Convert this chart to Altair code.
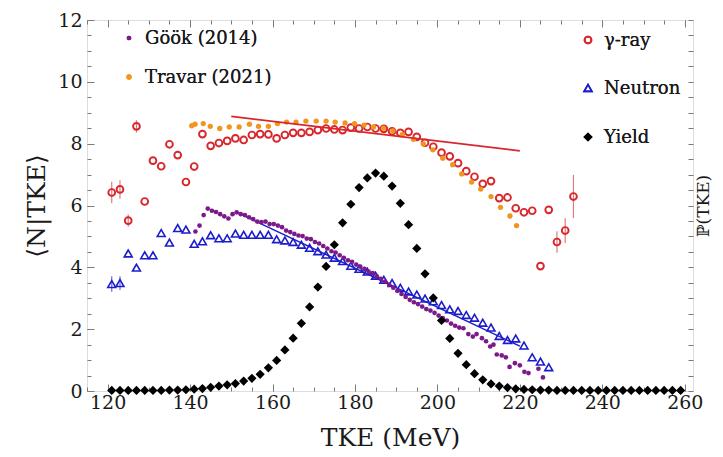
import altair as alt
import pandas as pd

# ---------------- data ----------------
gamma_x = [121, 123, 125, 127, 129, 131, 133, 135, 137, 139, 141, 143, 145, 147, 149,
           151, 153, 155, 157, 159, 161, 163, 165, 167, 169, 171, 173, 175, 177, 179,
           181, 183, 185, 187, 189, 191, 193, 195, 197, 199, 201, 203, 205, 207, 209,
           211, 213, 215, 217, 219, 221, 223, 225, 227, 229, 231, 233]
gamma_y = [6.42, 6.52, 5.51, 8.56, 6.13, 7.45, 7.27, 7.98, 7.63, 6.76, 7.26, 8.31, 7.93, 8.02, 8.09,
           8.17, 8.12, 8.28, 8.31, 8.30, 8.17, 8.28, 8.35, 8.35, 8.38, 8.44, 8.49, 8.46, 8.44, 8.52,
           8.49, 8.54, 8.49, 8.48, 8.40, 8.35, 8.38, 8.22, 8.03, 7.90, 7.71, 7.59, 7.37, 7.11, 6.93,
           6.70, 6.79, 6.24, 6.26, 5.91, 5.78, 5.83, 4.04, 5.86, 4.82, 5.19, 6.29]
gamma_err_x = [121, 123, 125, 127, 229, 231, 233]
gamma_err = [0.35, 0.30, 0.20, 0.20, 0.35, 0.40, 0.70]

neutron_x = [121, 123, 125, 127, 129, 131, 133, 135, 137, 139, 141, 143, 145, 147, 149,
             151, 153, 155, 157, 159, 161, 163, 165, 167, 169, 171, 173, 175, 177, 179,
             181, 183, 185, 187, 189, 191, 193, 195, 197, 199, 201, 203, 205, 207, 209,
             211, 213, 215, 217, 219, 221, 223, 225, 227]
neutron_y = [3.46, 3.49, 4.45, 3.99, 4.39, 4.39, 5.11, 4.80, 5.27, 5.22, 4.76, 4.84, 5.04, 4.94, 4.94,
             5.09, 5.05, 5.05, 5.05, 5.05, 4.91, 4.87, 4.82, 4.73, 4.63, 4.52, 4.41, 4.31, 4.20, 4.05,
             3.95, 3.86, 3.73, 3.60, 3.49, 3.34, 3.22, 3.12, 2.99, 2.90, 2.78, 2.64, 2.59, 2.46, 2.37,
             2.21, 2.05, 1.78, 1.65, 1.70, 1.47, 1.09, 0.95, 0.77]
neutron_err_x = [121, 123]
neutron_err = [0.25, 0.22]

yield_x = [121, 123, 125, 127, 129, 131, 133, 135, 137, 139, 141, 143, 145, 147, 149,
           151, 153, 155, 157, 159, 161, 163, 165, 167, 169, 171, 173, 175, 177, 179,
           181, 183, 185, 187, 189, 191, 193, 195, 197, 199, 201, 203, 205, 207, 209,
           211, 213, 215, 217, 219, 221, 223, 225, 227, 229, 231, 233, 235, 237, 239,
           241, 243, 245, 247, 249, 251, 253, 255, 257, 259]
yield_y = [0.02, 0.02, 0.02, 0.02, 0.02, 0.02, 0.02, 0.03, 0.03, 0.04, 0.06, 0.08, 0.12, 0.16, 0.20,
           0.24, 0.32, 0.41, 0.54, 0.75, 0.99, 1.33, 1.71, 2.19, 2.72, 3.36, 4.03, 4.73, 5.44, 6.04,
           6.58, 6.89, 7.05, 6.95, 6.63, 6.07, 5.38, 4.61, 3.79, 3.01, 2.28, 1.70, 1.22, 0.85, 0.56,
           0.36, 0.23, 0.16, 0.11, 0.07, 0.05, 0.04, 0.03, 0.03, 0.02, 0.02, 0.02, 0.02, 0.02, 0.02,
           0.02, 0.02, 0.02, 0.02, 0.02, 0.02, 0.02, 0.02, 0.02, 0.02]

gook_x = [141.3, 142.3, 143.3, 144.3, 145.3, 146.3, 147.3, 148.3, 149.3, 150.3, 151.3, 152.3,
          153.3, 154.3, 155.3, 156.3, 157.3, 158.3, 159.3, 160.3, 161.3, 162.3, 163.3, 164.3,
          165.3, 166.3, 167.3, 168.3, 169.3, 170.3, 171.3, 172.3, 173.3, 174.3, 175.3, 176.3,
          177.3, 178.3, 179.3, 180.3, 181.3, 182.3, 183.3, 184.3, 185.3, 186.3, 187.3, 188.3,
          189.3, 190.3, 191.3, 192.3, 193.3, 194.3, 195.3, 196.3, 197.3, 198.3, 199.3, 200.3,
          201.3, 202.3, 203.3, 204.3, 205.3, 206.3, 207.5, 208.6, 209.5, 210.8, 211.8, 212.8,
          213.6, 214.4, 215.6, 216.6, 217.5, 218.8, 220.0, 221.1, 222.1, 224.5, 225.6]
gook_y = [5.16, 5.35, 5.69, 5.90, 5.83, 5.79, 5.72, 5.65, 5.58, 5.72, 5.78, 5.72,
          5.69, 5.62, 5.56, 5.48, 5.46, 5.48, 5.40, 5.40, 5.35, 5.30, 5.19, 5.14,
          5.08, 5.03, 5.01, 4.93, 4.91, 4.82, 4.77, 4.69, 4.61, 4.52, 4.48, 4.39,
          4.31, 4.23, 4.18, 4.09, 4.02, 3.95, 3.86, 3.81, 3.71, 3.63, 3.54, 3.44,
          3.34, 3.24, 3.14, 3.04, 2.95, 2.87, 2.81, 2.73, 2.65, 2.60, 2.53, 2.44,
          2.36, 2.28, 2.18, 2.11, 2.05, 2.03, 1.84, 1.76, 1.84, 1.71, 1.61, 1.44,
          1.50, 1.18, 1.15, 1.09, 0.78, 0.90, 0.83, 0.62, 0.58, 0.72, 0.44]

travar_x = [140.4, 141.2, 143.2, 144.9, 147.2, 149.5, 151.9, 154.4, 156.6, 159.0, 161.2, 163.4,
            165.7, 168.1, 170.6, 173.0, 175.2, 177.6, 179.9, 182.2, 184.5, 186.9, 189.2, 191.5,
            194.2, 196.6, 198.9, 201.3, 203.7, 205.9, 208.3, 210.5, 213.0, 215.3, 217.6, 219.2]
travar_y = [8.58, 8.63, 8.65, 8.56, 8.49, 8.54, 8.54, 8.63, 8.56, 8.56, 8.65, 8.70,
            8.70, 8.73, 8.73, 8.73, 8.70, 8.67, 8.65, 8.60, 8.54, 8.50, 8.41, 8.30,
            8.14, 7.99, 7.80, 7.53, 7.32, 7.02, 6.76, 6.53, 6.29, 5.94, 5.66, 5.35]

fit_gamma_x = [150, 220]
fit_gamma_y = [8.88, 7.77]
fit_neutron_x = [151, 220]
fit_neutron_y = [5.80, 1.45]

x_ticks = [120, 140, 160, 180, 200, 220, 240, 260]
x_minor = [115, 120, 125, 130, 135, 140, 145, 150, 155, 160, 165, 170, 175, 180, 185, 190,
           195, 200, 205, 210, 215, 220, 225, 230, 235, 240, 245, 250, 255, 260]
y_ticks = [0, 2, 4, 6, 8, 10, 12]
y_minor = [0, 0.5, 1, 1.5, 2, 2.5, 3, 3.5, 4, 4.5, 5, 5.5, 6, 6.5, 7, 7.5, 8, 8.5, 9, 9.5,
           10, 10.5, 11, 11.5, 12]

# ---------------- tables ----------------
df_gamma = pd.DataFrame({"x": gamma_x, "y": gamma_y})
gy = dict(zip(gamma_x, gamma_y))
df_gerr = pd.DataFrame({"x": gamma_err_x,
                        "lo": [gy[x] - e for x, e in zip(gamma_err_x, gamma_err)],
                        "hi": [gy[x] + e for x, e in zip(gamma_err_x, gamma_err)]})
df_neutron = pd.DataFrame({"x": neutron_x, "y": neutron_y})
ny = dict(zip(neutron_x, neutron_y))
df_nerr = pd.DataFrame({"x": neutron_err_x,
                        "lo": [ny[x] - e for x, e in zip(neutron_err_x, neutron_err)],
                        "hi": [ny[x] + e for x, e in zip(neutron_err_x, neutron_err)]})
df_yield = pd.DataFrame({"x": yield_x, "y": yield_y})
df_gook = pd.DataFrame({"x": gook_x, "y": gook_y})
df_travar = pd.DataFrame({"x": travar_x, "y": travar_y})
df_fg = pd.DataFrame({"x": fit_gamma_x, "y": fit_gamma_y})
df_fn = pd.DataFrame({"x": fit_neutron_x, "y": fit_neutron_y})

# ---------------- style ----------------
SERIF = "DejaVu Serif"
TXT = "#1a1a1a"
FRAME = "#7a7a7a"
RED = "#d9262c"
BLUE = "#1c1ccc"
PURPLE = "#7b1a88"
ORANGE = "#f0951e"

W, H = 606, 371
xscale = alt.Scale(domain=[115, 262], nice=False, zero=False)
yscale = alt.Scale(domain=[0, 12], nice=False, zero=False)

def tick_axis(orient, values, size, offset):
    return alt.Axis(orient=orient, values=values, tickSize=size, offset=offset,
                    labels=False, domain=False, grid=False, title=None,
                    tickColor=FRAME, tickWidth=1)

ax_x_labels = alt.Axis(orient="bottom", values=x_ticks, ticks=False, domain=False, grid=False,
                       labelFont=SERIF, labelFontSize=19, labelColor=TXT, labelPadding=2,
                       title="TKE (MeV)", titleFont=SERIF, titleFontSize=25,
                       titleFontWeight="normal", titleColor=TXT, titleBaseline="top",
                       titleY=34)
ax_y_labels = alt.Axis(orient="left", values=y_ticks, ticks=False, domain=False, grid=False,
                       labelFont=SERIF, labelFontSize=19, labelColor=TXT, labelPadding=5,
                       title="⟨N|TKE⟩", titleFont=SERIF, titleFontSize=25,
                       titleFontWeight="normal", titleColor=TXT, titleX=-38, titleY=H / 2,
                       titleAngle=270, titleBaseline="bottom")
ax_x_bot_major = tick_axis("top", x_ticks, 7, -H)
ax_x_bot_minor = tick_axis("top", x_minor, 4, -H)
ax_x_top_major = tick_axis("bottom", x_ticks, 7, -H)
ax_x_top_minor = tick_axis("bottom", x_minor, 4, -H)
ax_y_left_major = tick_axis("right", y_ticks, 7, -W)
ax_y_left_minor = tick_axis("right", y_minor, 4, -W)
ax_y_right = tick_axis("left", y_minor, 5, -W)
ax_y_right_title = alt.Axis(orient="right", ticks=False, labels=False, domain=False, grid=False,
                            title="ℙ(TKE)", titleFont=SERIF, titleFontSize=17,
                            titleFontWeight="normal", titleColor=TXT, titleAngle=270,
                            titleBaseline="top", titleX=2, titleY=H / 2)

def X(field, axis=None):
    return alt.X(f"{field}:Q", scale=xscale, axis=axis)

def Y(field, axis=None):
    return alt.Y(f"{field}:Q", scale=yscale, axis=axis)

layers = []

# neutron error bars
layers.append(alt.Chart(df_nerr).mark_rule(color="#6b6bd8", strokeWidth=1.2).encode(
    x=X("x", ax_x_labels), y=Y("lo", ax_y_labels), y2="hi:Q"))
# gamma error bars
layers.append(alt.Chart(df_gerr).mark_rule(color="#e07a7d", strokeWidth=1.2).encode(
    x=X("x", ax_x_top_minor), y=Y("lo", ax_y_right_title), y2="hi:Q"))
# neutron
layers.append(alt.Chart(df_neutron).mark_point(
    shape="triangle-up", filled=False, color=BLUE, size=62, strokeWidth=1.6, opacity=1).encode(
    x=X("x", ax_x_bot_major), y=Y("y", ax_y_left_major)))
# neutron fit line
layers.append(alt.Chart(df_fn).mark_line(color=BLUE, strokeWidth=1.5).encode(
    x=X("x", ax_x_bot_minor), y=Y("y", ax_y_left_minor)))
# Gook
layers.append(alt.Chart(df_gook).mark_point(
    shape="circle", filled=True, color=PURPLE, size=22, opacity=1).encode(
    x=X("x", ax_x_top_major), y=Y("y", ax_y_right)))
# gamma
layers.append(alt.Chart(df_gamma).mark_point(
    shape="circle", filled=False, color=RED, size=46, strokeWidth=1.9, opacity=1).encode(
    x=X("x"), y=Y("y")))
# Travar
layers.append(alt.Chart(df_travar).mark_point(
    shape="circle", filled=True, color=ORANGE, size=28, opacity=1).encode(
    x=X("x"), y=Y("y")))
# gamma fit line
layers.append(alt.Chart(df_fg).mark_line(color=RED, strokeWidth=1.8).encode(
    x=X("x"), y=Y("y")))
# yield
layers.append(alt.Chart(df_yield).mark_point(
    shape="diamond", filled=True, color="black", size=85, opacity=1).encode(
    x=X("x"), y=Y("y")))

# ---------------- legends ----------------
legend_labels = ["Göök (2014)", "Travar (2021)", "γ-ray", "Neutron", "Yield"]
legend_pos = [(42, 18), (42, 57), (501, 20), (501, 68), (501, 117)]
legend_marks = [
    dict(shape="circle", filled=True, color=PURPLE, size=22),
    dict(shape="circle", filled=True, color=ORANGE, size=28),
    dict(shape="circle", filled=False, color=RED, size=46, strokeWidth=1.9),
    dict(shape="triangle-up", filled=False, color=BLUE, size=62, strokeWidth=1.6),
    dict(shape="diamond", filled=True, color="black", size=85),
]
for label, (px, py), mk in zip(legend_labels, legend_pos, legend_marks):
    layers.append(alt.Chart(df_fg).mark_point(opacity=1, **mk).encode(
        x=alt.value(px), y=alt.value(py)))
    layers.append(alt.Chart(df_fg).mark_text(
        align="left", baseline="middle", font=SERIF, fontSize=18, color=TXT).encode(
        x=alt.value(px + 16), y=alt.value(py + 1), text=alt.value(label)))

chart = alt.layer(*layers).resolve_axis(x="independent", y="independent").properties(
    width=W, height=H,
    autosize=alt.AutoSizeParams(type="none"),
    padding={"left": 79, "top": 12, "right": 22, "bottom": 64},
).configure_view(stroke=FRAME, strokeWidth=1.2).configure(background="white")

chart.save("out.html", embed_options={"renderer": "svg", "actions": False})
